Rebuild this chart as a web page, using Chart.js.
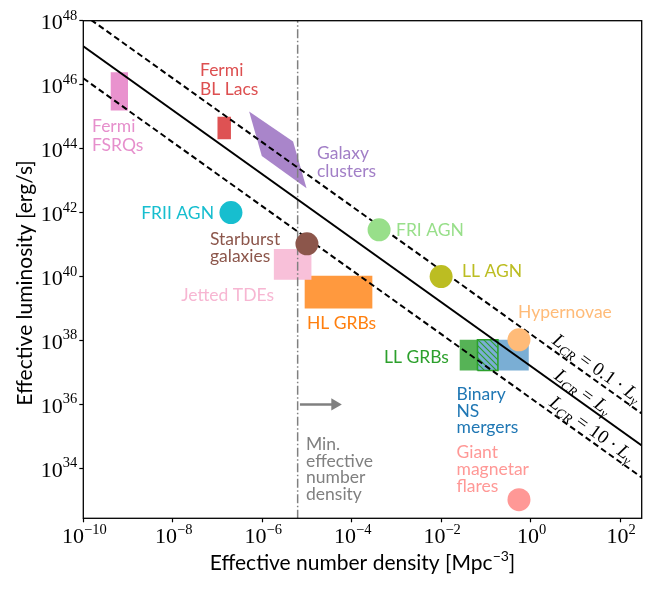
<!DOCTYPE html>
<html><head><meta charset="utf-8">
<script src="https://cdn.jsdelivr.net/npm/chart.js@4.4.0/dist/chart.umd.min.js"></script>
<style>html,body{margin:0;padding:0;background:#fff}#wrap{width:654px;height:589px;position:relative}</style>
</head><body><div id="wrap"><canvas id="c" width="654" height="589"></canvas></div>
<script>
// ---------- axes ----------
const xTickExps = [-10, -8, -6, -4, -2, 0, 2];
const yTickExps = [34, 36, 38, 40, 42, 44, 46, 48];
const xRange = [1e-10, 305];
const yRange = [2.75e32, 1e48];
const xTitle = 'Effective number density [Mpc';
const xTitleSup = '\u22123';
const yTitle = 'Effective luminosity [erg/s]';

// ---------- reference lines (n, L endpoints) ----------
const lineUpper = [[1e-10, 1.58e48], [305, 5.2e35]];   // L_CR = 0.1 L_gamma
const lineMid   = [[1e-10, 1.58e47], [305, 5.2e34]];   // L_CR = L_gamma
const lineLower = [[1e-10, 1.58e46], [305, 5.2e33]];   // L_CR = 10 L_gamma
const minDensityN = 6.2e-6;
const minDensityL = [1e30, 1e50];
const arrowN = [6.97e-6, 4.2e-5];
const arrowL = 1e36;

// ---------- boxes: [nMin, nMax], [LMin, LMax] ----------
const fsrqN = [4.1e-10, 1.0e-9],  fsrqL = [1.55e45, 2.45e46];
const bllacN = [1.0e-7, 2.0e-7],  bllacL = [1.95e44, 1.0e45];
const tdeN = [1.82e-6, 1.26e-5],  tdeL = [7.9e39, 7.2e40];
const hlgrbN = [8.9e-6, 2.9e-4],  hlgrbL = [1.0e39, 1.05e40];
const llgrbN = [2.6e-2, 0.186],   llgrbL = [1.15e37, 1.05e38];
const bnsN = [6.5e-2, 0.91],      bnsL = [1.15e37, 1.05e38];
// galaxy clusters polygon vertices [n, L]
const clusterPoly = [[5.1e-7, 1.45e45], [4.9e-6, 1.66e44], [9.8e-6, 5.75e42], [9.8e-7, 5.9e43]];

// ---------- point sources [n, L] ----------
const friiAGN = [2.0e-7, 1.0e42];
const starburst = [1.0e-5, 1.05e41];
const friAGN = [4.1e-4, 2.9e41];
const llAGN = [1.0e-2, 1.0e40];
const hypernovae = [0.55, 1.05e38];
const magnetar = [0.55, 1.05e33];

// ---------- text ----------
const labels = [
  {lines: ['Fermi', 'FSRQs'], x: 92, y: 132, pitch: 18.5, align: 'left', color: '#e68fcc'},
  {lines: ['Fermi', 'BL Lacs'], x: 200, y: 76, pitch: 18.5, align: 'left', color: '#dd4f50'},
  {lines: ['Galaxy', 'clusters'], x: 317, y: 159, pitch: 18, align: 'left', color: '#a27fc7'},
  {lines: ['FRII AGN'], x: 214, y: 219, align: 'right', color: '#17becf'},
  {lines: ['Starburst', 'galaxies'], x: 210, y: 245, pitch: 16.7, align: 'left', color: '#8c564b'},
  {lines: ['FRI AGN'], x: 396, y: 236, align: 'left', color: '#98df8a'},
  {lines: ['Jetted TDEs'], x: 274, y: 301, align: 'right', color: '#f7b6d2'},
  {lines: ['LL AGN'], x: 462, y: 277, align: 'left', color: '#bcbd22'},
  {lines: ['HL GRBs'], x: 307, y: 328.5, align: 'left', color: '#ff7f0e'},
  {lines: ['Hypernovae'], x: 518, y: 318.3, align: 'left', color: '#ffbb78'},
  {lines: ['LL GRBs'], x: 384, y: 363.3, align: 'left', color: '#2ca02c'},
  {lines: ['Binary', 'NS', 'mergers'], x: 456.5, y: 400, pitch: 16.7, align: 'left', color: '#1f77b4'},
  {lines: ['Giant', 'magnetar', 'flares'], x: 456.5, y: 458, pitch: 16.8, align: 'left', color: '#ff9896'},
  {lines: ['Min.', 'effective', 'number', 'density'], x: 306, y: 450, pitch: 16.5, align: 'left', color: '#808080'}
];
const lcrLabels = [
  {mid: '0.1', cx: 597, cy: 368},
  {mid: '', cx: 583, cy: 392},
  {mid: '10', cx: 592, cy: 429}
];

// ---------- helpers ----------
const P = (a) => ({x: a[0], y: a[1]});
const rectPts = (nr, Lr) => [P([nr[0], Lr[0]]), P([nr[1], Lr[0]]), P([nr[1], Lr[1]]), P([nr[0], Lr[1]]), P([nr[0], Lr[0]])];
function shapeDS(points, color, order, extra) {
  return Object.assign({data: points, showLine: true, fill: 'shape', backgroundColor: color,
    borderWidth: 0, borderColor: color, pointRadius: 0, pointHoverRadius: 0, order}, extra || {});
}
function lineDS(pts, color, width, dash, order) {
  return {data: pts.map(P), showLine: true, fill: false, borderColor: color, borderWidth: width,
    borderDash: dash, pointRadius: 0, pointHoverRadius: 0, order};
}
function circleDS(pt, color) {
  return {data: [P(pt)], showLine: false, backgroundColor: color, pointBackgroundColor: color,
    pointRadius: 11.5, pointHoverRadius: 11.5, pointBorderWidth: 0, borderWidth: 0, order: 0};
}
function hatchPattern(color) {
  const c = document.createElement('canvas'); c.width = 6; c.height = 6;
  const g = c.getContext('2d');
  g.strokeStyle = color; g.lineWidth = 1.1;
  g.beginPath();
  g.moveTo(-1, -1); g.lineTo(7, 7);
  g.moveTo(-1, 5); g.lineTo(1, 7);
  g.moveTo(5, -1); g.lineTo(7, 1);
  g.stroke();
  return document.getElementById('c').getContext('2d').createPattern(c, 'repeat');
}

const overlapN = [Math.max(llgrbN[0], bnsN[0]), Math.min(llgrbN[1], bnsN[1])];

const datasets = [
  shapeDS(rectPts(fsrqN, fsrqL), '#e992ce', 5),
  shapeDS(rectPts(bllacN, bllacL), '#de5253', 5),
  shapeDS([...clusterPoly, clusterPoly[0]].map(P), '#a985ca', 5),
  shapeDS(rectPts(tdeN, tdeL), '#f8c0d9', 5),
  shapeDS(rectPts(hlgrbN, hlgrbL), '#ff993e', 5),
  shapeDS(rectPts(llgrbN, llgrbL), '#56b356', 4),
  shapeDS(rectPts(bnsN, bnsL), '#7aaed4', 3),
  shapeDS(rectPts(overlapN, bnsL), hatchPattern('#2ca02c'), 2, {borderWidth: 1.6, borderColor: '#2ca02c'}),
  lineDS(lineUpper, '#000', 2, [6, 3.5], 1),
  lineDS(lineMid, '#000', 2, [], 1),
  lineDS(lineLower, '#000', 2, [6, 3.5], 1),
  lineDS(minDensityL.map(L => [minDensityN, L]), '#808080', 1.5, [9, 2.5, 1.5, 2.5], 1),
  {data: arrowN.map(n => P([n, arrowL])), showLine: true, fill: false, borderColor: '#808080', borderWidth: 2.5,
   pointRadius: [0, 7], pointStyle: 'triangle', rotation: 90, pointBackgroundColor: '#808080',
   pointBorderWidth: 0, pointHoverRadius: [0, 7], order: 1},
  circleDS(friiAGN, '#17becf'),
  circleDS(starburst, '#8c564b'),
  circleDS(friAGN, '#98df8a'),
  circleDS(llAGN, '#bcbd22'),
  circleDS(hypernovae, '#ffbb78'),
  circleDS(magnetar, '#ff9896')
];

const SERIF = '"Liberation Serif", "DejaVu Serif", serif';
const SANS = 'Lato, "Open Sans", sans-serif';

function drawPow(ctx, x, yb, e, align) {
  const base = '10', ex = (e < 0 ? '\u2212' : '') + Math.abs(e);
  ctx.font = '22px ' + SERIF;
  const w1 = ctx.measureText(base).width;
  ctx.font = '14.5px ' + SERIF;
  const w2 = ctx.measureText(ex).width;
  const tot = w1 + w2;
  const x0 = align === 'right' ? x - tot : x - tot / 2;
  ctx.textAlign = 'left';
  ctx.font = '22px ' + SERIF;
  ctx.fillText(base, x0, yb);
  ctx.font = '14.5px ' + SERIF;
  ctx.fillText(ex, x0 + w1, yb - 9.5);
}

function drawLcr(ctx, cx, cy, ang, mid) {
  const pieces = [
    {t: 'L', f: 'italic 19px ' + SERIF},
    {t: 'CR', f: 'italic 13px ' + SERIF, dy: 3.5},
    {gap: 5.5},
    {t: '=', f: '19px ' + SERIF},
    {gap: 5.5}
  ];
  if (mid) {
    pieces.push({t: mid, f: '19px ' + SERIF}, {gap: 4.5}, {t: '\u00b7', f: '19px ' + SERIF}, {gap: 4.5});
  }
  pieces.push({t: 'L', f: 'italic 19px ' + SERIF}, {t: '\u03b3', f: 'italic 13px ' + SERIF, dy: 3.5});
  let tot = 0;
  for (const p of pieces) {
    if (p.gap) { p.w = p.gap; } else { ctx.font = p.f; p.w = ctx.measureText(p.t).width; }
    tot += p.w;
  }
  ctx.save();
  ctx.translate(cx, cy);
  ctx.rotate(ang);
  ctx.fillStyle = '#000';
  ctx.textAlign = 'left';
  let xx = -tot / 2;
  for (const p of pieces) {
    if (!p.gap) { ctx.font = p.f; ctx.fillText(p.t, xx, 6 + (p.dy || 0)); }
    xx += p.w;
  }
  ctx.restore();
}

const overlay = {
  id: 'overlay',
  afterDraw(chart) {
    const {ctx, chartArea: ca, scales: {x, y}} = chart;
    ctx.save();
    ctx.strokeStyle = '#000';
    ctx.lineWidth = 1.3;
    ctx.strokeRect(ca.left, ca.top, ca.right - ca.left, ca.bottom - ca.top);
    ctx.fillStyle = '#000';
    ctx.textBaseline = 'alphabetic';
    for (const e of yTickExps) drawPow(ctx, ca.left - 6, y.getPixelForValue(Math.pow(10, e)) + 8.5, e, 'right');
    for (const e of xTickExps) drawPow(ctx, x.getPixelForValue(Math.pow(10, e)) + 1, ca.bottom + 25, e, 'center');

    // axis titles
    ctx.font = '21px ' + SANS;
    const wt = ctx.measureText(xTitle).width;
    ctx.font = '14px ' + SANS;
    const ws = ctx.measureText(xTitleSup).width;
    ctx.font = '21px ' + SANS;
    const wb = ctx.measureText(']').width;
    let x0 = (ca.left + ca.right) / 2 - (wt + ws + wb) / 2;
    ctx.textAlign = 'left';
    ctx.fillText(xTitle, x0, 570);
    ctx.font = '14px ' + SANS;
    ctx.fillText(xTitleSup, x0 + wt, 561);
    ctx.font = '21px ' + SANS;
    ctx.fillText(']', x0 + wt + ws, 570);

    ctx.save();
    ctx.translate(32, 283);
    ctx.rotate(-Math.PI / 2);
    ctx.textAlign = 'center';
    ctx.fillText(yTitle, 0, 0);
    ctx.restore();

    // annotations
    ctx.font = '17.5px ' + SANS;
    for (const lb of labels) {
      ctx.fillStyle = lb.color;
      ctx.textAlign = lb.align;
      lb.lines.forEach((t, i) => ctx.fillText(t, lb.x, lb.y + i * (lb.pitch || 0)));
    }
    // line labels
    const p1x = x.getPixelForValue(lineMid[0][0]), p1y = y.getPixelForValue(lineMid[0][1]);
    const p2x = x.getPixelForValue(lineMid[1][0]), p2y = y.getPixelForValue(lineMid[1][1]);
    const ang = Math.atan2(p2y - p1y, p2x - p1x);
    for (const l of lcrLabels) drawLcr(ctx, l.cx, l.cy, ang, l.mid);
    ctx.restore();
  }
};

new Chart(document.getElementById('c'), {
  type: 'scatter',
  data: {datasets},
  options: {
    responsive: false,
    animation: false,
    events: [],
    layout: {padding: {top: 20.7, right: 12.3, left: 0, bottom: 0}},
    plugins: {legend: {display: false}, tooltip: {enabled: false}},
    scales: {
      x: {
        type: 'logarithmic', position: 'bottom', min: xRange[0], max: xRange[1],
        afterBuildTicks: s => { s.ticks = xTickExps.map(e => ({value: Math.pow(10, e)})); },
        afterFit: s => { s.height = 70.7; },
        ticks: {display: false},
        border: {display: false},
        grid: {drawOnChartArea: false, drawTicks: true, tickLength: 4, tickColor: '#000', tickWidth: 1.2, color: '#000'}
      },
      y: {
        type: 'logarithmic', position: 'left', min: yRange[0], max: yRange[1],
        afterBuildTicks: s => { s.ticks = yTickExps.map(e => ({value: Math.pow(10, e)})); },
        afterFit: s => { s.width = 83.3; },
        ticks: {display: false},
        border: {display: false},
        grid: {drawOnChartArea: false, drawTicks: true, tickLength: 4, tickColor: '#000', tickWidth: 1.2, color: '#000'}
      }
    }
  },
  plugins: [overlay]
});
</script>
</body></html>
